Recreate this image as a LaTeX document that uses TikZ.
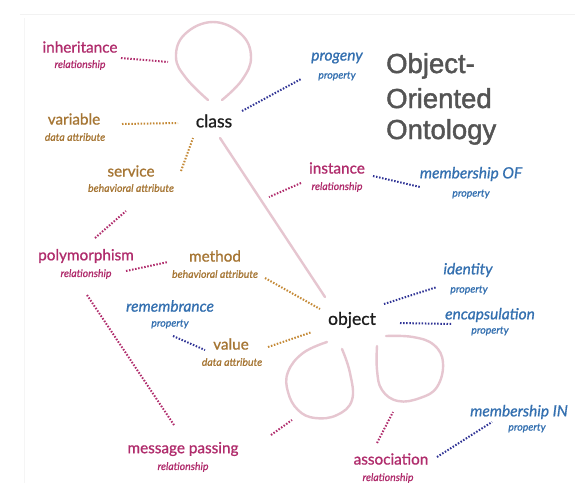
\documentclass[tikz,border=0pt]{standalone}
\usepackage{fontspec}
\setmainfont{Lato}
\newfontfamily\wordfont{Lato}[RawFeature={embolden=0.9}]
\newfontfamily\titlefont{Liberation Sans}[RawFeature={embolden=1.6}]
\definecolor{relcol}{RGB}{176,44,108}
\definecolor{attrcol}{RGB}{166,118,52}
\definecolor{propcol}{RGB}{52,112,176}
\definecolor{thingcol}{RGB}{30,30,30}
\definecolor{titlecol}{RGB}{84,84,84}
\definecolor{loopcol}{RGB}{230,198,208}
\definecolor{attrdotcol}{RGB}{196,136,52}
\definecolor{propdotcol}{RGB}{48,52,150}

\tikzset{
  word/.style={inner sep=0pt, font=\wordfont\fontsize{15.3}{15}\selectfont},
  kind/.style={inner sep=0pt, font=\wordfont\fontsize{10.5}{11}\selectfont\itshape},
  rel/.style={word, text=relcol},
  attr/.style={word, text=attrcol},
  prop/.style={word, text=propcol, font=\wordfont\fontsize{15.5}{15}\selectfont\itshape},
  thing/.style={word, text=thingcol, font=\wordfont\fontsize{17.5}{17}\selectfont},
  headline/.style={anchor=base west, inner sep=0pt, text=titlecol, font=\titlefont\fontsize{27.5}{27}\selectfont},
  dots/.style={line width=2pt, dash pattern=on 1.5pt off 1.6pt},
  reldots/.style={dots, draw=relcol},
  attrdots/.style={dots, draw=attrdotcol},
  propdots/.style={dots, draw=propdotcol},
  loopline/.style={draw=loopcol, line width=2.4pt, line cap=round}
}

\begin{document}
\begin{tikzpicture}[x=1pt, y=-1pt]
  \useasboundingbox (0,0) rectangle (575,483);
  \clip (0,0) rectangle (575,483);
  \fill[white] (0,0) rectangle (575,483);
  % faint slide edge
  \draw[gray!10, line width=1pt] (20,14) -- (575,14);
  \draw[gray!8, line width=1pt] (24,18) -- (24,483);

  % title
  \node[headline] (title1) at (386,73) {Object-};
  \node[headline] (title2) at (386,108) {Oriented};
  \node[headline] (title3) at (386,139) {Ontology};

  % the two things
  \node[thing] (class) at (214,121) {class};
  \node[thing] (object) at (352,320) {object};

  % relationships
  \node[rel] (inherit) at (80,47) {inheritance};
  \node[kind, text=relcol] (inherit-t) at (80,65) {relationship};
  \node[rel] (instance) at (337,168) {instance};
  \node[kind, text=relcol] (instance-t) at (337,187) {relationship};
  \node[rel] (poly) at (86,256) {polymorphism};
  \node[kind, text=relcol] (poly-t) at (86,274) {relationship};
  \node[rel] (msgpass) at (183,449) {message passing};
  \node[kind, text=relcol] (msgpass-t) at (183,467) {relationship};
  \node[rel] (assoc) at (391,459) {association};
  \node[kind, text=relcol] (assoc-t) at (388,478) {relationship};

  % attributes
  \node[attr] (variable) at (74,119) {variable};
  \node[kind, text=attrcol] (variable-t) at (75,137) {data attribute};
  \node[attr] (service) at (131,171) {service};
  \node[kind, text=attrcol] (service-t) at (131,188) {behavioral attribute};
  \node[attr] (method) at (215,256) {method};
  \node[kind, text=attrcol] (method-t) at (215,274) {behavioral attribute};
  \node[attr] (value) at (231,344) {value};
  \node[kind, text=attrcol] (value-t) at (232,362) {data attribute};

  % properties
  \node[prop] (progeny) at (337,58) {progeny};
  \node[kind, text=propcol] (progeny-t) at (337,76) {property};
  \node[prop] (memberof) at (471,174) {membership OF};
  \node[kind, text=propcol] (memberof-t) at (471,194) {property};
  \node[prop] (remem) at (170,306) {remembrance};
  \node[kind, text=propcol] (remem-t) at (170,324) {property};
  \node[prop] (identity) at (468,270) {identity};
  \node[kind, text=propcol] (identity-t) at (469,290) {property};
  \node[prop] (encap) at (490,315) {encapsulation};
  \node[kind, text=propcol] (encap-t) at (490,331) {property};
  \node[prop, anchor=west] (memberin) at (470,412) {membership IN};
  \node[kind, text=propcol] (memberin-t) at (527,428) {property};

  % pink loops and the class-object line
  \draw[loopline] plot[smooth, tension=0.7] coordinates {(208,100) (186,78) (176,57) (185,34) (213,22) (241,34) (251,57) (242,80) (222,100)};
  \draw[loopline] ([shift={(6,17)}]class.center) -- ([shift={(-27,-23)}]object.center);
  \draw[loopline] plot[smooth, tension=0.7] coordinates {(327,342) (303,353) (288,372) (288,392) (298,410) (315,418) (337,415) (352,400) (350,373) (342,349)};
  \draw[loopline] plot[smooth, tension=0.7] coordinates {(377,346) (377,370) (382,390) (398,401) (420,398) (437,387) (443,363) (434,345) (413,337) (386,336)};

  % free ends next to the loops
  \coordinate (inherit-end) at (168,62);
  \coordinate (instance-end) at (269,197);
  \coordinate (msgpass-end) at (292,420);
  \coordinate (assoc-end) at (393,412);

  % dotted links
  \draw[reldots] ([shift={(41,11)}]inherit.center) -- (inherit-end);
  \draw[attrdots] ([shift={(48,5)}]variable.center) -- ([shift={(-36,2)}]class.center);
  \draw[attrdots] ([shift={(50,0)}]service.center) -- ([shift={(-21,17)}]class.center);
  \draw[reldots] ([shift={(9,-18)}]poly.center) -- ([shift={(-5,23)}]service-t.center);
  \draw[propdots] ([shift={(28,-10)}]class.center) -- ([shift={(-36,21)}]progeny.center);
  \draw[reldots] ([shift={(-36,15)}]instance.center) -- (instance-end);
  \draw[propdots] ([shift={(36,8)}]instance.center) -- ([shift={(-51,13)}]memberof.center);
  \draw[reldots] ([shift={(40,15)}]poly.center) -- ([shift={(-47,6)}]method.center);
  \draw[attrdots] ([shift={(50,22)}]method.center) -- ([shift={(-32,-11)}]object.center);
  \draw[propdots] ([shift={(3,12)}]remem-t.center) -- ([shift={(-26,6)}]value.center);
  \draw[attrdots] ([shift={(37,3)}]value.center) -- ([shift={(-40,12)}]object.center);
  \draw[propdots] ([shift={(32,-16)}]object.center) -- ([shift={(-31,17)}]identity.center);
  \draw[propdots] ([shift={(48,3)}]object.center) -- ([shift={(-38,9)}]encap.center);
  \draw[reldots] ([shift={(1,21)}]poly-t.center) -- ([shift={(-9,-24)}]msgpass.center);
  \draw[reldots] ([shift={(88,-14)}]msgpass.center) -- (msgpass-end);
  \draw[reldots] ([shift={(-14,-16)}]assoc.center) -- (assoc-end);
  \draw[propdots] ([shift={(46,-2)}]assoc.center) -- ([shift={(-35,-6)}]memberin-t.center);
\end{tikzpicture}
\end{document}
